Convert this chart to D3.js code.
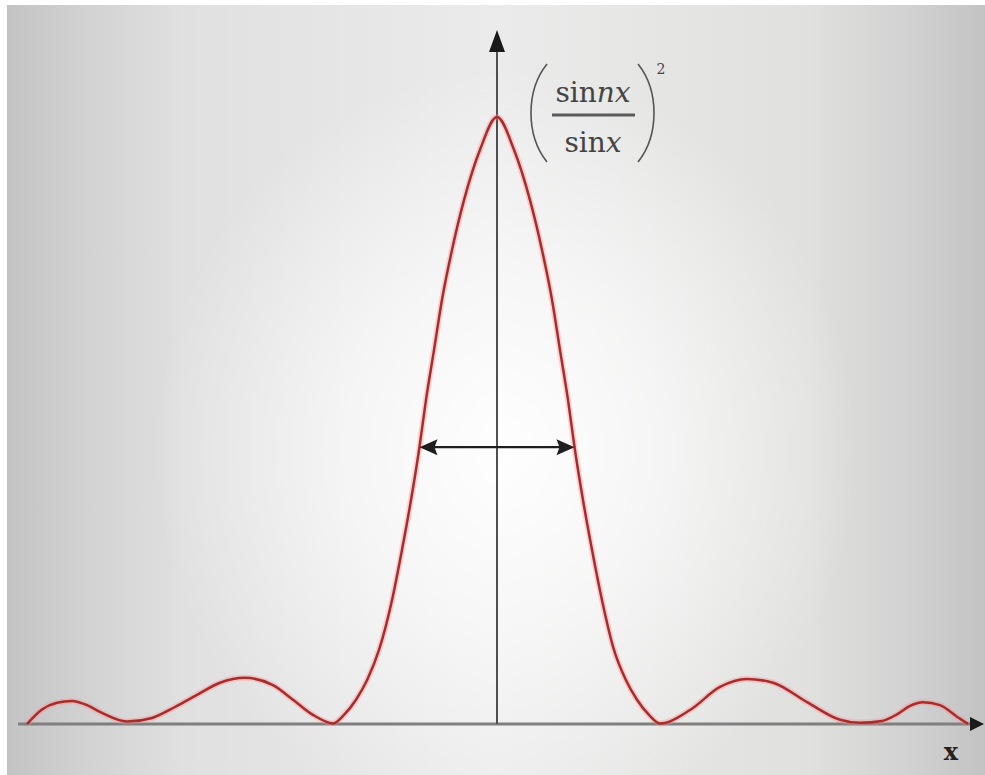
<!DOCTYPE html>
<html>
<head>
<meta charset="utf-8">
<script src="https://cdn.jsdelivr.net/npm/d3@7"></script>
<style>
  html, body { margin: 0; padding: 0; background: #ffffff; }
  svg { display: block; }
</style>
</head>
<body>
<script>
// Intensity pattern (sin nx / sin x)^2, normalised so the central maximum is 1.
const xValues = [
  -4.70, -4.55, -4.40, -4.25, -4.10, -3.96, -3.70, -3.45, -3.22, -3.00,
  -2.77, -2.52, -2.24, -2.04, -1.84, -1.64,
  -1.53, -1.41, -1.30, -1.18, -1.05, -0.95, -0.86, -0.78, -0.71, -0.63,
  -0.55, -0.45, -0.33, -0.17, 0.00,
  0.17, 0.33, 0.45, 0.55, 0.63, 0.71, 0.78, 0.86, 0.95, 1.05,
  1.17, 1.29, 1.40, 1.52, 1.63,
  1.93, 2.23, 2.50, 2.76, 3.10, 3.43, 3.63, 3.85, 4.00, 4.13, 4.26,
  4.43, 4.60, 4.71
];
const intensity = [
  0.000, 0.024, 0.035, 0.038, 0.031, 0.019, 0.004, 0.010, 0.028, 0.048,
  0.068, 0.076, 0.064, 0.040, 0.015, 0.001,
  0.015, 0.040, 0.072, 0.122, 0.204, 0.287, 0.369, 0.451, 0.534, 0.616,
  0.699, 0.781, 0.863, 0.946, 1.000,
  0.946, 0.863, 0.781, 0.699, 0.616, 0.534, 0.451, 0.369, 0.287, 0.204,
  0.122, 0.072, 0.040, 0.015, 0.001,
  0.023, 0.061, 0.074, 0.068, 0.036, 0.007, 0.002, 0.005, 0.016, 0.030, 0.036,
  0.031, 0.012, 0.000
];
// Width marker across the central peak (level and the two crossing points).
const widthLevel = [0.456];
const widthEnds = [-0.775, 0.775];
const axisLabel = ["x"];

const W = 985, H = 775;
const svg = d3.select("body").append("svg").attr("width", W).attr("height", H);
const defs = svg.append("defs");

// Backdrop: grey edges, lighter middle, soft white glow round the centre.
const lg = defs.append("linearGradient").attr("id", "bgH").attr("x1", 0).attr("x2", 1).attr("y1", 0).attr("y2", 0);
[[0, "#c3c3c3"], [0.08, "#d2d2d2"], [0.18, "#e0e0e0"], [0.5, "#ebebeb"],
 [0.82, "#e0e0de"], [0.92, "#d2d2d2"], [1, "#c3c3c3"]].forEach(([o, c]) =>
  lg.append("stop").attr("offset", o).attr("stop-color", c));
const rg = defs.append("radialGradient").attr("id", "bgGlow")
  .attr("cx", 0.51).attr("cy", 0.58).attr("r", 0.5)
  .attr("gradientTransform", "translate(0.51,0.58) scale(0.72,1) translate(-0.51,-0.58)");
[[0, "#ffffff", 0.95], [0.45, "#ffffff", 0.6], [1, "#ffffff", 0]].forEach(([o, c, a]) =>
  rg.append("stop").attr("offset", o).attr("stop-color", c).attr("stop-opacity", a));

svg.append("rect").attr("x", 7).attr("y", 5).attr("width", W - 7).attr("height", H - 5).attr("fill", "url(#bgH)");
svg.append("rect").attr("x", 7).attr("y", 5).attr("width", W - 7).attr("height", H - 5).attr("fill", "url(#bgGlow)");

// Scales
const x = d3.scaleLinear().domain([-4.70, 4.71]).range([27, 968]);
const y = d3.scaleLinear().domain([0, 1]).range([724, 117]);

const x0 = x(0), yBase = y(0);

// Horizontal axis with arrowhead
svg.append("line")
  .attr("x1", x(-4.79)).attr("x2", W - 12)
  .attr("y1", yBase).attr("y2", yBase)
  .attr("stroke", "#7f7f7f").attr("stroke-width", 3);
svg.append("path")
  .attr("d", `M${W - 1},${yBase} L${W - 15},${yBase - 7} L${W - 15},${yBase + 7} Z`)
  .attr("fill", "#1a1a1a");

// Vertical axis with arrowhead
const yTop = 30;
svg.append("line")
  .attr("x1", x0).attr("x2", x0)
  .attr("y1", yBase).attr("y2", yTop + 18)
  .attr("stroke", "#4f4f4f").attr("stroke-width", 2);
svg.append("path")
  .attr("d", `M${x0},${yTop} L${x0 - 8},${yTop + 22} L${x0 + 8},${yTop + 22} Z`)
  .attr("fill", "#1a1a1a");

// Curve
const pts = xValues.map((v, i) => [v, intensity[i]]);
const line = d3.line().x(d => x(d[0])).y(d => y(d[1])).curve(d3.curveMonotoneX);
svg.append("path").attr("d", line(pts))
  .attr("fill", "none").attr("stroke", "#ff8a8a").attr("stroke-opacity", 0.35)
  .attr("stroke-width", 6).attr("stroke-linejoin", "round");
svg.append("path").attr("d", line(pts))
  .attr("fill", "none").attr("stroke", "#a82c2c")
  .attr("stroke-width", 2.5).attr("stroke-linejoin", "round");

// Double-headed width arrow
const ay = y(widthLevel[0]);
const ax1 = x(widthEnds[0]), ax2 = x(widthEnds[1]);
svg.append("line").attr("x1", ax1 + 10).attr("x2", ax2 - 10).attr("y1", ay).attr("y2", ay)
  .attr("stroke", "#1e1e1e").attr("stroke-width", 2.2);
svg.append("path")
  .attr("d", `M${ax1},${ay} L${ax1 + 18},${ay - 8} L${ax1 + 15},${ay} L${ax1 + 18},${ay + 8} Z`)
  .attr("fill", "#1e1e1e");
svg.append("path")
  .attr("d", `M${ax2},${ay} L${ax2 - 18},${ay - 8} L${ax2 - 15},${ay} L${ax2 - 18},${ay + 8} Z`)
  .attr("fill", "#1e1e1e");

// Axis label
svg.append("text").attr("x", 951).attr("y", 760)
  .attr("text-anchor", "middle")
  .attr("font-family", "'DejaVu Serif', 'Liberation Serif', serif")
  .attr("font-weight", "bold").attr("font-size", 24)
  .attr("fill", "#222").text(axisLabel[0]);

// Formula label: (sin nx / sin x)^2
const f = svg.append("g").attr("fill", "#444")
  .attr("font-family", "'DejaVu Serif', 'Liberation Serif', serif").attr("font-size", 28);
const num = f.append("text").attr("x", 593).attr("y", 102).attr("text-anchor", "middle");
num.append("tspan").text("sin");
num.append("tspan").attr("font-style", "italic").text("nx");
const den = f.append("text").attr("x", 593).attr("y", 152).attr("text-anchor", "middle");
den.append("tspan").text("sin");
den.append("tspan").attr("font-style", "italic").text("x");
f.append("line").attr("x1", 552).attr("x2", 635).attr("y1", 115).attr("y2", 115)
  .attr("stroke", "#5a5a5a").attr("stroke-width", 2.8);
// Tall parentheses
f.append("path")
  .attr("d", "M547,64 Q531,84 531,113 Q531,142 547,162")
  .attr("fill", "none").attr("stroke", "#555").attr("stroke-width", 1.6);
f.append("path")
  .attr("d", "M638,64 Q654,84 654,113 Q654,142 638,162")
  .attr("fill", "none").attr("stroke", "#555").attr("stroke-width", 1.6);
f.append("text").attr("x", 661).attr("y", 74).attr("font-size", 14).attr("text-anchor", "middle").text("2");
</script>
</body>
</html>
